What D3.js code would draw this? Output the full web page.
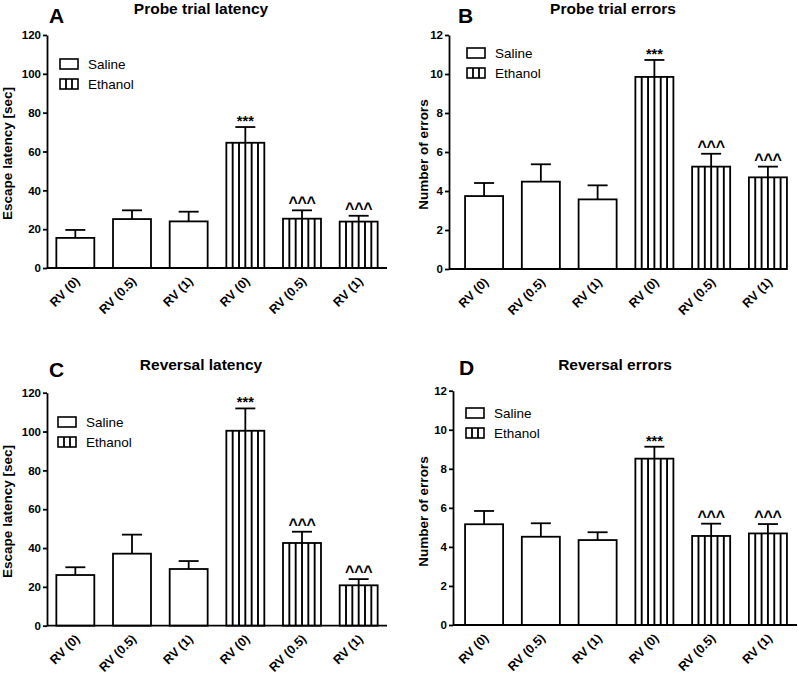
<!DOCTYPE html>
<html><head><meta charset="utf-8">
<script src="https://cdn.jsdelivr.net/npm/d3@7"></script>
<style>
body{margin:0;background:#fff}
text{font-family:"Liberation Sans",Arial,Helvetica,sans-serif;fill:#000}
</style>
</head><body>
<svg id="chart" width="798" height="680"></svg>
<script>
// ---------- data ----------
const categories = ["RV (0)", "RV (0.5)", "RV (1)", "RV (0)", "RV (0.5)", "RV (1)"];
const groups = ["Saline", "Saline", "Saline", "Ethanol", "Ethanol", "Ethanol"];
const sigMarks = ["", "", "", "***", "^^^", "^^^"];
const legendItems = ["Saline", "Ethanol"];

const probeLatencyMean = [15.5, 25.2, 24.0, 64.5, 25.4, 23.9];
const probeLatencySem  = [4.1, 4.5, 5.0, 8.1, 4.3, 3.0];
const probeErrorsMean  = [3.74, 4.48, 3.57, 9.85, 5.25, 4.70];
const probeErrorsSem   = [0.67, 0.89, 0.72, 0.87, 0.66, 0.55];
const reversalLatencyMean = [26.1, 37.1, 29.2, 100.4, 42.6, 20.8];
const reversalLatencySem  = [4.0, 9.8, 4.1, 11.5, 5.8, 3.2];
const reversalErrorsMean  = [5.16, 4.52, 4.35, 8.52, 4.56, 4.69];
const reversalErrorsSem   = [0.68, 0.69, 0.40, 0.61, 0.63, 0.48];

const latencyTicks = [0, 20, 40, 60, 80, 100, 120];
const errorTicks = [0, 2, 4, 6, 8, 10, 12];

const panelLetters = ["A", "B", "C", "D"];
const panelTitles = ["Probe trial latency", "Probe trial errors", "Reversal latency", "Reversal errors"];
const yLabels = ["Escape latency [sec]", "Number of errors", "Escape latency [sec]", "Number of errors"];

// ---------- layout ----------
const layouts = [
  {axisX:47,  y0:268,   yTop:35,    band:[47,387],      axisEnd:387, titleX:201, titleY:14,  letterX:49,  letterY:23,  ylabX:12,  ylabY:153.5, legX:60,  legY:59},
  {axisX:449, y0:269,   yTop:35,    band:[455.7,796.3], axisEnd:787, titleX:613, titleY:14,  letterX:458, letterY:23,  ylabX:428, ylabY:154.5, legX:467, legY:48},
  {axisX:47,  y0:625.7, yTop:392.7, band:[47,387],      axisEnd:387, titleX:201, titleY:370, letterX:49,  letterY:377, ylabX:12,  ylabY:511.5, legX:58,  legY:417},
  {axisX:453, y0:625,   yTop:390.7, band:[455.7,796.3], axisEnd:797, titleX:615, titleY:370, letterX:459, letterY:375, ylabX:428, ylabY:511.5, legX:466, legY:408}
];

const panels = [
  {mean: probeLatencyMean, sem: probeLatencySem, ticks: latencyTicks},
  {mean: probeErrorsMean, sem: probeErrorsSem, ticks: errorTicks},
  {mean: reversalLatencyMean, sem: reversalLatencySem, ticks: latencyTicks},
  {mean: reversalErrorsMean, sem: reversalErrorsSem, ticks: errorTicks}
];

const svg = d3.select("#chart");
const SW = 1.8;

panels.forEach((p, pi) => {
  const L = layouts[pi];
  const g = svg.append("g");
  const idx = d3.range(categories.length);

  const x = d3.scaleBand().domain(idx).range(L.band).paddingInner(0.33).paddingOuter(0.165);
  const y = d3.scaleLinear().domain([p.ticks[0], p.ticks[p.ticks.length - 1]]).range([L.y0, L.yTop]);

  // bars
  idx.forEach(i => {
    const bx = x(i), bw = x.bandwidth();
    const top = y(p.mean[i]);
    const cx = bx + bw / 2;
    const bar = g.append("g");
    bar.append("rect").attr("x", bx).attr("y", top).attr("width", bw).attr("height", L.y0 - top)
      .attr("fill", "#fff").attr("stroke", "#000").attr("stroke-width", SW);
    if (groups[i] === "Ethanol") {
      d3.range(1, 6).forEach(k => {
        bar.append("line").attr("x1", bx + k * bw / 6).attr("x2", bx + k * bw / 6)
          .attr("y1", top).attr("y2", L.y0).attr("stroke", "#000").attr("stroke-width", 1.9);
      });
    }
    // error bar (upper only)
    const et = y(p.mean[i] + p.sem[i]);
    g.append("line").attr("x1", cx).attr("x2", cx).attr("y1", top).attr("y2", et)
      .attr("stroke", "#000").attr("stroke-width", SW);
    g.append("line").attr("x1", cx - 10).attr("x2", cx + 10).attr("y1", et).attr("y2", et)
      .attr("stroke", "#000").attr("stroke-width", SW);
    if (sigMarks[i]) {
      const star = sigMarks[i] === "***";
      g.append("text").attr("x", cx).attr("y", star ? et - 1 : et - 2).attr("text-anchor", "middle")
        .style("font-size", star ? "14.5px" : "16px").style("font-weight", "bold")
        .style("letter-spacing", star ? "0px" : "-0.3px")
        .text(sigMarks[i]);
    }
  });

  // y axis
  const ya = g.append("g").attr("transform", `translate(${L.axisX},0)`)
    .call(d3.axisLeft(y).tickValues(p.ticks).tickSize(4).tickSizeOuter(0).tickPadding(2));
  ya.select(".domain").attr("stroke-width", SW);
  ya.selectAll(".tick line").attr("stroke-width", SW);
  ya.selectAll(".tick text").style("font-size", "11.5px").style("font-weight", "bold")
    .style("font-family", '"Liberation Sans",Arial,sans-serif');

  // x axis line
  g.append("line").attr("x1", L.axisX).attr("x2", L.axisEnd).attr("y1", L.y0).attr("y2", L.y0)
    .attr("stroke", "#000").attr("stroke-width", SW);

  // x labels
  idx.forEach(i => {
    const cx = x(i) + x.bandwidth() / 2;
    g.append("text").attr("transform", `translate(${cx + 5},${L.y0 + 14}) rotate(-45)`)
      .attr("text-anchor", "end").style("font-size", "12.5px").style("font-weight", "bold")
      .text(categories[i]);
  });

  // titles and letters
  g.append("text").attr("x", L.titleX).attr("y", L.titleY).attr("text-anchor", "middle")
    .style("font-size", "15.5px").style("font-weight", "bold").text(panelTitles[pi]);
  g.append("text").attr("x", L.letterX).attr("y", L.letterY)
    .style("font-size", "21px").style("font-weight", "bold").text(panelLetters[pi]);
  g.append("text").attr("transform", `translate(${L.ylabX},${L.ylabY}) rotate(-90)`)
    .attr("text-anchor", "middle").style("font-size", "13.5px").style("font-weight", "bold")
    .text(yLabels[pi]);

  // legend
  legendItems.forEach((name, k) => {
    const ly = L.legY + k * 20;
    g.append("rect").attr("x", L.legX).attr("y", ly).attr("width", 18).attr("height", 10)
      .attr("fill", "#fff").attr("stroke", "#000").attr("stroke-width", 1.6);
    if (name === "Ethanol") {
      [1, 2].forEach(j => {
        g.append("line").attr("x1", L.legX + j * 6).attr("x2", L.legX + j * 6)
          .attr("y1", ly).attr("y2", ly + 10).attr("stroke", "#000").attr("stroke-width", 1.8);
      });
    }
    g.append("text").attr("x", L.legX + 28).attr("y", ly + 10)
      .style("font-size", "13.5px").text(name);
  });
});
</script>
</body></html>
